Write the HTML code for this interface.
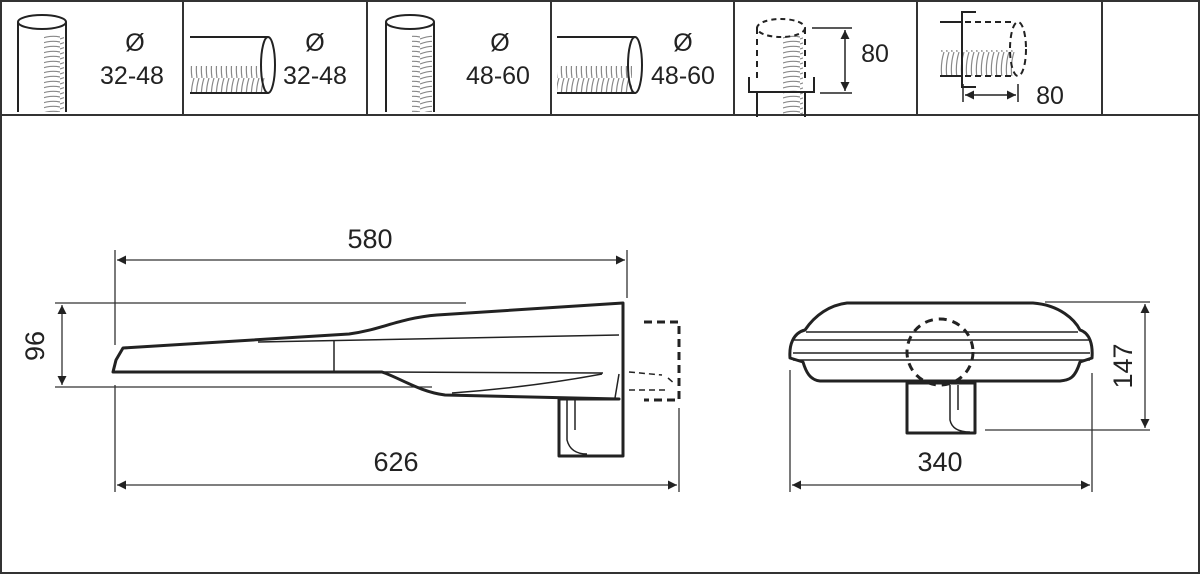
<!DOCTYPE html>
<html><head><meta charset="utf-8"><style>
html,body{margin:0;padding:0;background:#fff;}
svg{display:block;}
text{font-family:"Liberation Sans",sans-serif;fill:#222;}
</style></head><body>
<svg width="1200" height="574" viewBox="0 0 1200 574" xmlns="http://www.w3.org/2000/svg">
<defs>
<marker id="a" viewBox="0 0 10 10" refX="10" refY="5" markerWidth="12" markerHeight="9" orient="auto-start-reverse" markerUnits="userSpaceOnUse"><path d="M0,0 L10,5 L0,10 z" fill="#222"/></marker>
<pattern id="hv" width="20" height="5" patternUnits="userSpaceOnUse"><path d="M0,4 Q10,0 20,2" stroke="#888" stroke-width="1.2" fill="none"/></pattern>
<pattern id="hh" width="5" height="26" patternUnits="userSpaceOnUse"><path d="M4,0 Q0,13 2,26" stroke="#888" stroke-width="1.2" fill="none"/></pattern>
</defs>
<g stroke="#333" stroke-width="2" fill="none">
<rect x="1" y="1" width="1198" height="572"/>
<line x1="1" y1="115" x2="1199" y2="115"/>
<line x1="183" y1="1" x2="183" y2="115"/>
<line x1="367" y1="1" x2="367" y2="115"/>
<line x1="551" y1="1" x2="551" y2="115"/>
<line x1="734" y1="1" x2="734" y2="115"/>
<line x1="917" y1="1" x2="917" y2="115"/>
<line x1="1102" y1="1" x2="1102" y2="115"/>
</g>
<!-- cell1 -->
<rect x="44" y="35" width="20" height="77" fill="url(#hv)"/>
<g stroke="#222" stroke-width="2" fill="none">
<ellipse cx="42" cy="22" rx="24" ry="7"/><line x1="18" y1="22" x2="18" y2="112"/><line x1="66" y1="22" x2="66" y2="112"/>
</g>
<!-- cell2 -->
<rect x="190" y="66" width="75" height="26" fill="url(#hh)"/>
<g stroke="#222" stroke-width="2" fill="none">
<line x1="190" y1="37" x2="268" y2="37"/><line x1="190" y1="93" x2="268" y2="93"/><ellipse cx="268" cy="65" rx="7" ry="28"/>
</g>
<!-- cell3 -->
<rect x="412" y="35" width="20" height="77" fill="url(#hv)"/>
<g stroke="#222" stroke-width="2" fill="none">
<ellipse cx="410" cy="22" rx="24" ry="7"/><line x1="386" y1="22" x2="386" y2="112"/><line x1="434" y1="22" x2="434" y2="112"/>
</g>
<!-- cell4 -->
<rect x="557" y="66" width="75" height="26" fill="url(#hh)"/>
<g stroke="#222" stroke-width="2" fill="none">
<line x1="557" y1="37" x2="635" y2="37"/><line x1="557" y1="93" x2="635" y2="93"/><ellipse cx="635" cy="65" rx="7" ry="28"/>
</g>
<!-- cell5 -->
<rect x="783" y="35" width="20" height="80" fill="url(#hv)"/>
<g stroke="#222" stroke-width="2" fill="none">
<ellipse cx="781" cy="28" rx="24" ry="9" stroke-dasharray="5,4"/>
<line x1="757" y1="28" x2="757" y2="80" stroke-dasharray="6,5"/><line x1="805" y1="28" x2="805" y2="80" stroke-dasharray="6,5"/>
<polyline points="749,77 749,92 814,92 814,77"/>
<line x1="757" y1="92" x2="757" y2="117"/><line x1="805" y1="92" x2="805" y2="117"/>
<line x1="812" y1="28" x2="852" y2="28" stroke-width="1.5"/><line x1="820" y1="93" x2="852" y2="93" stroke-width="1.5"/>
<line x1="845" y1="30" x2="845" y2="91" stroke-width="1.5" marker-start="url(#a)" marker-end="url(#a)"/>
</g>
<!-- cell6 -->
<rect x="940" y="50" width="75" height="26" fill="url(#hh)"/>
<g stroke="#222" stroke-width="2" fill="none">
<line x1="940" y1="22" x2="962" y2="22"/><line x1="940" y1="76" x2="962" y2="76"/>
<polyline points="976,12 962,12 962,87 976,87"/>
<line x1="965" y1="22" x2="1015" y2="22" stroke-dasharray="6,4"/><line x1="965" y1="76" x2="1015" y2="76" stroke-dasharray="6,4"/>
<ellipse cx="1018" cy="49" rx="8" ry="27" stroke-dasharray="6,4"/>
<line x1="963" y1="84" x2="963" y2="102" stroke-width="1.5"/><line x1="1018" y1="84" x2="1018" y2="102" stroke-width="1.5"/>
<line x1="965" y1="95" x2="1016" y2="95" stroke-width="1.5" marker-start="url(#a)" marker-end="url(#a)"/>
</g>
<g font-size="25" text-anchor="middle">
<text x="135" y="51">Ø</text><text x="132" y="84">32-48</text>
<text x="315" y="51">Ø</text><text x="315" y="84">32-48</text>
<text x="500" y="51">Ø</text><text x="498" y="84">48-60</text>
<text x="683" y="51">Ø</text><text x="683" y="84">48-60</text>
<text x="875" y="62">80</text>
<text x="1050" y="104">80</text>
</g>
<!-- Side view -->
<g stroke="#333" stroke-width="1.3" fill="none">
<line x1="115" y1="250" x2="115" y2="345"/><line x1="115" y1="385" x2="115" y2="492"/>
<line x1="627" y1="250" x2="627" y2="298"/>
<line x1="679" y1="408" x2="679" y2="492"/>
<line x1="55" y1="303" x2="466" y2="303"/><line x1="55" y1="387" x2="432" y2="387"/>
<line x1="117" y1="260" x2="625" y2="260" marker-start="url(#a)" marker-end="url(#a)"/>
<line x1="117" y1="485" x2="677" y2="485" marker-start="url(#a)" marker-end="url(#a)"/>
<line x1="62" y1="305" x2="62" y2="385" marker-start="url(#a)" marker-end="url(#a)"/>
</g>
<g stroke="#222" stroke-width="3" fill="none" stroke-linejoin="round">
<path d="M113,372 L116,360 L123,348 L349,334 C380,330 400,318 437,315 L623,303 L623,456 L559,456 L559,399 L619,399 L445,395 C420,392 400,378 382,372 Z"/>
</g>
<g stroke="#222" stroke-width="1.5" fill="none">
<line x1="258" y1="342" x2="619" y2="335"/>
<line x1="334" y1="341" x2="334" y2="372"/>
<line x1="382" y1="372" x2="603" y2="373"/>
<path d="M452,393 C520,388 570,380 602,374"/>
<line x1="619" y1="374" x2="615" y2="398"/>
<path d="M567,399 L567,440 C570,452 580,454 587,454"/>
<path d="M575,399 L575,430"/>
</g>
<g stroke="#222" stroke-width="3" fill="none" stroke-dasharray="8,5">
<polyline points="644,322 679,322 679,400 644,400"/>
</g>
<g stroke="#222" stroke-width="1.5" fill="none" stroke-dasharray="6,4">
<line x1="629" y1="372" x2="662" y2="375"/><line x1="629" y1="390" x2="668" y2="390"/><line x1="668" y1="378" x2="675" y2="384"/>
</g>
<g font-size="27" text-anchor="middle">
<text x="370" y="248">580</text>
<text x="396" y="471">626</text>
<text transform="translate(44,346) rotate(-90)">96</text>
</g>
<!-- front view -->
<g stroke="#333" stroke-width="1.3" fill="none">
<line x1="790" y1="370" x2="790" y2="492"/><line x1="1092" y1="373" x2="1092" y2="492"/>
<line x1="1045" y1="302" x2="1150" y2="302"/><line x1="985" y1="430" x2="1150" y2="430"/>
<line x1="1145" y1="304" x2="1145" y2="428" marker-start="url(#a)" marker-end="url(#a)"/>
<line x1="792" y1="485" x2="1090" y2="485" marker-start="url(#a)" marker-end="url(#a)"/>
</g>
<g stroke="#222" stroke-width="3" fill="none" stroke-linejoin="round">
<path d="M847,303 L1033,303 C1060,305 1075,320 1080,330 C1090,333 1093,345 1092,358 L1080,362 C1075,378 1070,380 1060,381 L820,381 C810,380 806,372 803,362 L790,358 C789,345 793,333 805,330 C815,315 830,305 847,303 Z"/>
<rect x="907" y="383" width="68" height="50"/>
</g>
<g stroke="#222" stroke-width="1.5" fill="none">
<line x1="806" y1="332" x2="1078" y2="332"/>
<line x1="793" y1="340" x2="1090" y2="340"/>
<line x1="793" y1="353" x2="1090" y2="353"/>
<line x1="793" y1="360" x2="1090" y2="360"/>
<path d="M950,385 L950,420 C952,430 962,432 970,432 M958,385 L958,410"/>
</g>
<circle cx="940" cy="352" r="33" stroke="#222" stroke-width="3" fill="none" stroke-dasharray="8,6"/>
<g font-size="27" text-anchor="middle">
<text x="940" y="471">340</text>
<text transform="translate(1132,366) rotate(-90)">147</text>
</g>
</svg>
</body></html>
